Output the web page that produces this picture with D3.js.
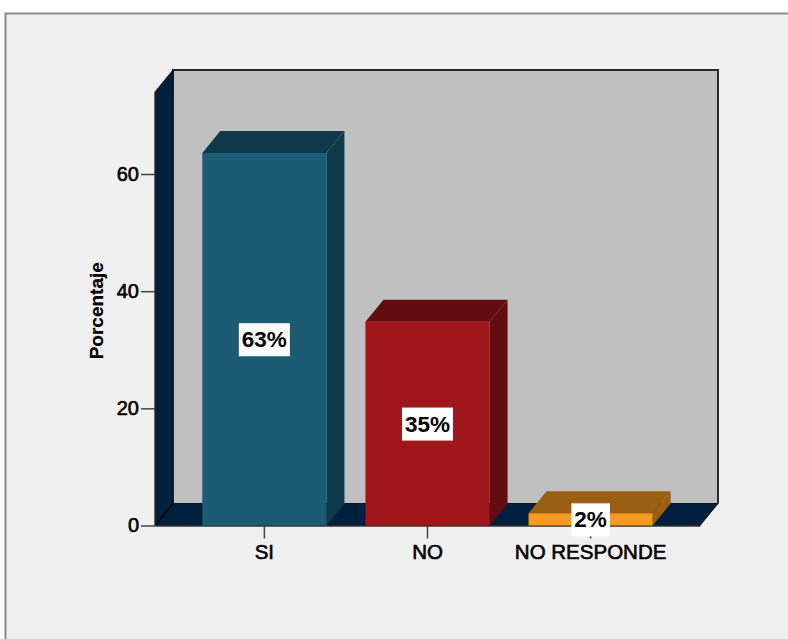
<!DOCTYPE html>
<html>
<head>
<meta charset="utf-8">
<script src="https://cdn.jsdelivr.net/npm/d3@7"></script>
<style>
  html, body { margin: 0; padding: 0; background: #ffffff; }
  svg { display: block; }
  text { font-family: "Liberation Sans", Arial, sans-serif; }
</style>
</head>
<body>
<svg id="chart" width="788" height="639"></svg>
<script>
// ---- data ----
const categories = ["SI", "NO", "NO RESPONDE"];
const values = [63.6, 34.8, 2.1];
const valueLabels = ["63%", "35%", "2%"];
const yTicks = [0, 20, 40, 60];
const yTitle = "Porcentaje";

// ---- styles ----
const frontColors = ["#1b5c74", "#a1161a", "#f89a1f"];
const darkColors  = ["#10394a", "#620e11", "#9b5f13"];
const navy = "#01203f";
const wallGray = "#c0c0c0";
const DX = 18, DY = 22;

const svg = d3.select("#chart");

// frame
svg.append("rect").attr("x", 0).attr("y", 0).attr("width", 788).attr("height", 639).attr("fill", "#ffffff");
svg.append("rect").attr("x", 5.5).attr("y", 13.5).attr("width", 800).attr("height", 700)
  .attr("fill", "#f0f0f0").attr("stroke", "#8c8c8c").attr("stroke-width", 2);

const x = d3.scaleBand().domain(categories).range([155, 700]).paddingInner(0.239).paddingOuter(0.29);
const y = d3.scaleLinear().domain([0, 74]).range([525.5, 92]);

const x0 = x.range()[0], x1 = x.range()[1];
const yb = y(0), yt = y(74);

// back wall
svg.append("rect").attr("x", x0 + DX).attr("y", yt - DY).attr("width", x1 - x0).attr("height", yb - yt)
  .attr("fill", wallGray);
svg.append("path")
  .attr("d", `M${x0 + DX},${yb - DY} L${x0 + DX},${yt - DY} L${x1 + DX},${yt - DY} L${x1 + DX},${yb - DY}`)
  .attr("fill", "none").attr("stroke", "#2a2a2a").attr("stroke-width", 2);

// left wall
svg.append("polygon")
  .attr("points", [[x0, yt], [x0 + DX, yt - DY], [x0 + DX, yb - DY], [x0, yb]].join(" "))
  .attr("fill", navy).attr("stroke", "#111").attr("stroke-width", 1);

// floor
svg.append("polygon")
  .attr("points", [[x0, yb], [x0 + DX, yb - DY], [x1 + DX, yb - DY], [x1, yb]].join(" "))
  .attr("fill", navy).attr("stroke", "#111").attr("stroke-width", 1);
svg.append("line").attr("x1", x0).attr("y1", yb).attr("x2", x0 + DX).attr("y2", yb - DY)
  .attr("stroke", "#000").attr("stroke-width", 1.5);

// y axis
const yAxis = svg.append("g").attr("transform", `translate(${x0},0)`)
  .call(d3.axisLeft(y).tickValues(yTicks).tickSize(14).tickSizeOuter(0).tickPadding(2).tickFormat(d3.format("d")));
yAxis.select(".domain").attr("stroke", "#222").attr("stroke-width", 1.5);
yAxis.selectAll(".tick line").attr("stroke", "#444").attr("stroke-width", 1.5);
yAxis.selectAll(".tick text").attr("font-size", 20).attr("fill", "#000")
  .attr("stroke", "#000").attr("stroke-width", 0.6)
  .attr("font-family", "Liberation Sans, Arial, sans-serif");

svg.append("text").attr("transform", `translate(103,${(y(0) + y(74)) / 2 + 2}) rotate(-90)`)
  .attr("text-anchor", "middle").attr("font-size", 19).attr("font-weight", "bold")
  .attr("stroke", "#000").attr("stroke-width", 0.2).text(yTitle);

// x axis
const xAxis = svg.append("g").attr("transform", `translate(0,${yb})`)
  .call(d3.axisBottom(x).tickSize(13).tickPadding(6).tickSizeOuter(0));
xAxis.select(".domain").attr("stroke", "#333").attr("stroke-width", 1.5);
xAxis.selectAll(".tick line").attr("stroke", "#444").attr("stroke-width", 1.5);
xAxis.selectAll(".tick text").attr("font-size", 20.5).attr("fill", "#000")
  .attr("stroke", "#000").attr("stroke-width", 0.6)
  .attr("font-family", "Liberation Sans, Arial, sans-serif");

// bars
const bars = svg.append("g").selectAll("g").data(categories).join("g");
bars.each(function(c, i) {
  const g = d3.select(this);
  const bx = x(c), bw = x.bandwidth(), top = y(values[i]), bot = y(0);
  g.append("polygon")
    .attr("points", [[bx + bw, top], [bx + bw + DX, top - DY], [bx + bw + DX, bot - DY], [bx + bw, bot]].join(" "))
    .attr("fill", darkColors[i]);
  g.append("polygon")
    .attr("points", [[bx, top], [bx + DX, top - DY], [bx + bw + DX, top - DY], [bx + bw, top]].join(" "))
    .attr("fill", darkColors[i]);
  g.append("rect").attr("x", bx).attr("y", top).attr("width", bw).attr("height", bot - top)
    .attr("fill", frontColors[i]);
});

// value labels
bars.each(function(c, i) {
  const g = d3.select(this);
  const cx = x(c) + x.bandwidth() / 2;
  const cy = (y(values[i]) + y(0)) / 2;
  const t = g.append("text").attr("x", cx).attr("y", cy + 8).attr("text-anchor", "middle")
    .attr("font-size", 22.5).attr("font-weight", "bold").attr("fill", "#000").text(valueLabels[i]);
  const bb = t.node().getBBox();
  g.insert("rect", "text").attr("x", bb.x - 3).attr("y", cy - 16).attr("width", bb.width + 6).attr("height", 33)
    .attr("fill", "#ffffff");
});
</script>
</body>
</html>
